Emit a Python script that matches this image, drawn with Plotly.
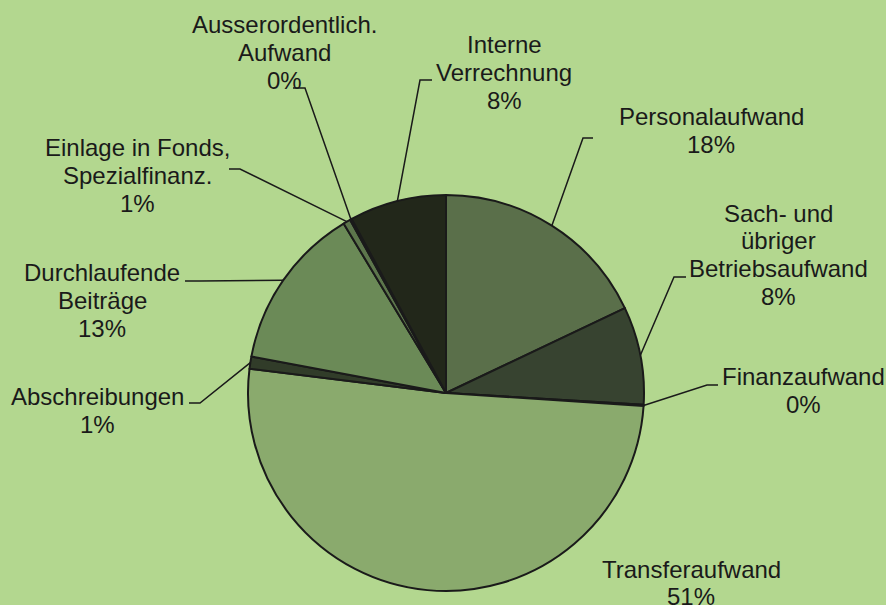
import math
import plotly.graph_objects as go

# ---- data ----
categories = ["Personalaufwand", "Sach- und übriger Betriebsaufwand", "Finanzaufwand",
              "Transferaufwand", "Abschreibungen", "Durchlaufende Beiträge",
              "Einlage in Fonds, Spezialfinanz.", "Ausserordentlich. Aufwand",
              "Interne Verrechnung"]
shares = [17.95, 8.0, 0.1, 50.9, 1.0, 13.4, 0.6, 0.15, 7.9]
label_lines = [
    ["Personalaufwand"],
    ["Sach- und", "übriger", "Betriebsaufwand"],
    ["Finanzaufwand"],
    ["Transferaufwand"],
    ["Abschreibungen"],
    ["Durchlaufende", "Beiträge"],
    ["Einlage in Fonds,", "Spezialfinanz."],
    ["Ausserordentlich.", "Aufwand"],
    ["Interne", "Verrechnung"],
]
colors = ["#5a6f4a", "#374330", "#2e3828", "#8aaa6d", "#313c29", "#6b8a57",
          "#5d764c", "#2a3222", "#22271a"]

# ---- layout constants ----
W, H = 886, 605
CX, CY, R = 446, 393, 198
BG = "#b3d78f"
TXT = "#1a1a1a"
FS = 24
LS = 27.7
# per label: text centre x, first-line centre y, leader elbow (x,y), leader end x (None = no leader)
label_pos = [
    (711, 117, (583, 138), 593),
    (778, 213, (674, 277), 686),
    (803, 377, (707, 385), 718),
    (691, 569, None, None),
    (97, 397, (200, 403), 189),
    (102, 273, (200, 281), 185),
    (137, 148, (240, 169), 229),
    (284, 25, (305, 88), 293),
    (504, 45, (420, 80), 432),
]

px = lambda x: x / W
py = lambda y: 1 - y / H

fig = go.Figure(go.Pie(
    labels=categories, values=shares, sort=False, direction="clockwise", rotation=0,
    textinfo="none", hoverinfo="label+percent", showlegend=False,
    marker=dict(colors=colors, line=dict(color="#1a1a1a", width=2)),
    domain=dict(x=[px(CX - R), px(CX + R)], y=[py(CY + R), py(CY - R)]),
))

total = sum(shares)
cum = 0
annotations = []
shapes = []
for i, v in enumerate(shares):
    mid = (cum + v / 2) / total * 2 * math.pi
    cum += v
    rx = CX + R * math.sin(mid)
    ry = CY - R * math.cos(mid)
    tx, ty, elbow, endx = label_pos[i]
    lines = label_lines[i] + [f"{round(v / total * 100):.0f}%"]
    for j, line in enumerate(lines):
        annotations.append(dict(
            x=px(tx), y=py(ty + j * LS), xref="paper", yref="paper",
            text=line, showarrow=False, xanchor="center", yanchor="middle",
            font=dict(family="Liberation Sans, Arial", size=FS, color=TXT)))
    if elbow is not None:
        ex, ey = elbow
        shapes.append(dict(
            type="path", xref="paper", yref="paper",
            path=f"M {px(rx)},{py(ry)} L {px(ex)},{py(ey)} L {px(endx)},{py(ey)}",
            line=dict(color=TXT, width=1.5)))

fig.update_layout(
    width=W, height=H, margin=dict(l=0, r=0, t=0, b=0),
    paper_bgcolor=BG, plot_bgcolor=BG,
    annotations=annotations, shapes=shapes,
)
fig.write_html("out.html", config={"displayModeBar": False},
               post_script="document.body.style.margin='0';document.body.style.overflow='hidden';")
